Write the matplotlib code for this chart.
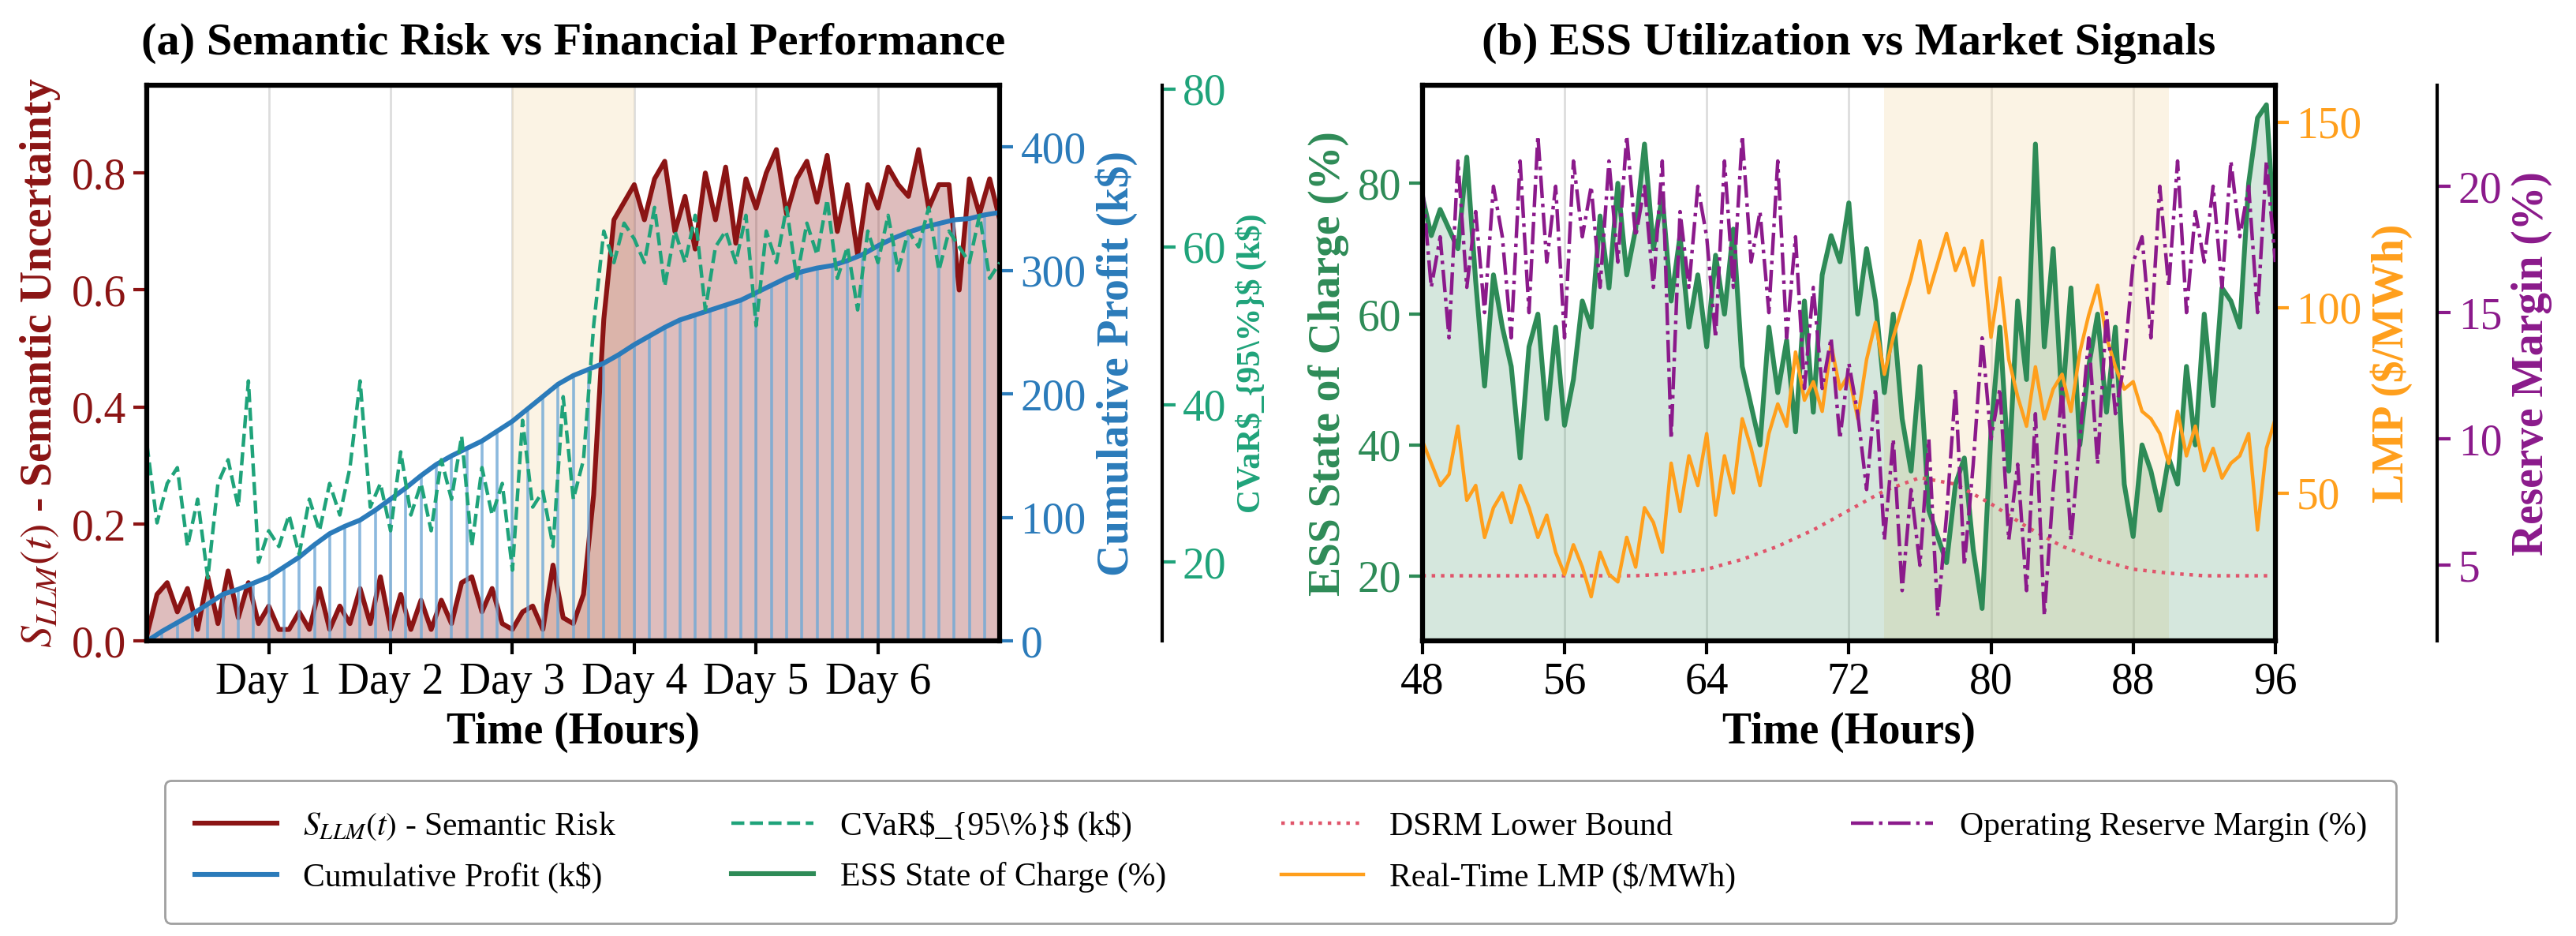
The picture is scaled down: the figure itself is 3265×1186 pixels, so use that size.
import numpy as np
import matplotlib.pyplot as plt
from matplotlib.lines import Line2D

plt.rcParams['font.family'] = ['Liberation Serif', 'DejaVu Serif']
plt.rcParams['mathtext.fontset'] = 'stix'

# ---- panel (a) data ----
hours_a = np.arange(0, 169, 2)
s_llm = [0.01, 0.08, 0.10, 0.05, 0.09, 0.02, 0.11, 0.03, 0.12, 0.04, 0.10, 0.03, 0.06,
         0.02, 0.02, 0.05, 0.02, 0.09, 0.02, 0.06, 0.03, 0.09, 0.03, 0.11, 0.02, 0.08,
         0.02, 0.07, 0.02, 0.07, 0.03, 0.10, 0.11, 0.05, 0.09, 0.03, 0.02, 0.05, 0.06,
         0.02, 0.13, 0.04, 0.03, 0.08, 0.25, 0.55, 0.72, 0.75, 0.78, 0.72, 0.79, 0.82,
         0.70, 0.76, 0.67, 0.80, 0.72, 0.81, 0.68, 0.79, 0.74, 0.80, 0.84, 0.73, 0.79,
         0.82, 0.75, 0.83, 0.70, 0.78, 0.66, 0.78, 0.74, 0.81, 0.78, 0.76, 0.84, 0.74,
         0.78, 0.78, 0.60, 0.79, 0.73, 0.79, 0.72]
cvar = [35, 25, 30, 32, 22, 28, 18, 30, 33, 27, 43, 20, 24, 22, 26, 21, 28, 24, 30, 26,
        32, 43, 27, 30, 24, 34, 26, 30, 24, 33, 28, 36, 22, 32, 26, 30, 19, 38, 27, 29,
        22, 41, 28, 33, 50, 62, 58, 63, 61, 58, 65, 55, 62, 58, 64, 52, 60, 62, 58, 64,
        50, 62, 58, 65, 56, 63, 59, 66, 56, 60, 52, 62, 58, 64, 57, 62, 60, 65, 57, 62,
        60, 58, 64, 56, 58]
hours_p = np.arange(0, 169, 3)
profit = [0, 8, 15, 22, 30, 38, 42, 47, 52, 60, 68, 78, 87, 93, 98, 106, 115, 124, 134,
          143, 150, 156, 162, 170, 178, 188, 198, 208, 215, 220, 225, 232, 240, 247, 254,
          260, 264, 268, 272, 276, 282, 288, 294, 299, 302, 304, 308, 313, 320, 326, 331,
          335, 338, 341, 342, 345, 347]
day_ticks = [24, 48, 72, 96, 120, 144]
day_labels = ['Day 1', 'Day 2', 'Day 3', 'Day 4', 'Day 5', 'Day 6']

# ---- panel (b) data ----
hours_b = np.arange(48, 96.01, 0.5)
soc = [78, 72, 76, 73, 70, 84, 65, 49, 66,
       58, 52, 38, 55, 60, 44, 58, 43, 50,
       62, 58, 75, 64, 80, 66, 73, 86, 70,
       78, 62, 72, 58, 66, 55, 69, 60, 73,
       52, 46, 40, 58, 48, 56, 42, 62, 45,
       66, 72, 68, 77, 60, 70, 62, 48, 60,
       44, 36, 52, 30, 26, 22, 34, 38, 24,
       15, 42, 58, 36, 62, 50, 86, 55, 70,
       46, 64, 40, 52, 60, 45, 58, 34, 26,
       40, 36, 30, 38, 34, 52, 40, 60, 46,
       64, 62, 58, 80, 90, 92, 70]
lmp = [64, 58, 52, 55, 68, 48, 52, 38, 46,
       50, 42, 52, 46, 38, 44, 34, 28, 36,
       30, 22, 34, 28, 26, 38, 30, 46, 42,
       34, 58, 45, 60, 52, 66, 44, 60, 50,
       70, 62, 52, 66, 74, 68, 88, 75, 80,
       72, 90, 78, 82, 70, 86, 96, 82, 92,
       100, 108, 118, 104, 112, 120, 110, 116, 106,
       118, 92, 108, 86, 76, 68, 84, 70, 78,
       82, 72, 88, 98, 106, 92, 84, 78, 80,
       72, 70, 66, 58, 72, 60, 68, 56, 62,
       54, 58, 60, 66, 40, 62, 70]
reserve = [20, 16, 18, 14, 21, 16, 19, 15, 20,
           18, 14, 21, 15, 22, 17, 20, 14, 21,
           18, 20, 16, 21, 17, 22, 18, 20, 16,
           21, 10, 19, 16, 20, 18, 14, 21, 16,
           22, 17, 19, 15, 21, 14, 18, 12, 16,
           12, 14, 10, 13, 11, 8, 12, 6, 10,
           4, 8, 5, 10, 3, 7, 12, 5, 9,
           14, 10, 12, 6, 9, 4, 11, 3, 8,
           12, 6, 10, 14, 9, 15, 11, 13, 17,
           18, 14, 20, 16, 21, 15, 19, 17, 20,
           16, 21, 18, 20, 15, 21, 17]
hours_d = np.arange(48, 97, 2)
dsrm = [20, 20, 20, 20, 20, 20, 20, 20.3, 21, 22.5, 24.5, 27, 30, 33, 35, 34, 31,
        27.5, 24.5, 22.5, 21, 20.4, 20, 20, 20]

c_red = '#8b1414'
c_blue = '#2b7bba'
c_cvar = '#1fa37a'
c_soc = '#2e8b57'
c_lmp = '#ff9f1c'
c_res = '#8b1a8b'
c_dsrm = '#e0556b'

fig = plt.figure(figsize=(16.33, 5.93), dpi=200)
ax1 = fig.add_axes([0.057, 0.315, 0.331, 0.594])
ax2 = fig.add_axes([0.552, 0.315, 0.331, 0.594])

def style_spines(ax):
    for s in ax.spines.values():
        s.set_linewidth(2.2)

# ---------- (a) ----------
ax1.axvspan(72, 96, color='#f5deb3', alpha=0.35, lw=0)
for d in day_ticks:
    ax1.axvline(d, color='#dddddd', lw=1, zorder=0)
ax1.plot(hours_a, s_llm, color=c_red, lw=2.2, zorder=3)
ax1.fill_between(hours_a, 0, s_llm, color=c_red, alpha=0.28, lw=0)
ax1.set_xlim(0, 168)
ax1.set_ylim(0, 0.95)
ax1.set_yticks([0, 0.2, 0.4, 0.6, 0.8])
ax1.set_xticks(day_ticks)
ax1.set_xticklabels(day_labels)
ax1.tick_params(axis='y', colors=c_red, labelsize=20, width=1.5, length=6)
ax1.tick_params(axis='x', labelsize=20, width=1.5, length=6)
ax1.set_ylabel('$S_{LLM}(t)$ - Semantic Uncertainty', color=c_red, fontsize=20, fontweight='bold')
ax1.set_xlabel('Time (Hours)', fontsize=20, fontweight='bold')
ax1.set_title('(a) Semantic Risk vs Financial Performance', fontsize=21, fontweight='bold', pad=14)

ax1b = ax1.twinx()
ax1b.vlines(hours_p, 0, profit, color='#6fa8d6', lw=1.3, alpha=0.8)
ax1b.plot(hours_p, profit, color=c_blue, lw=2.2)
ax1b.set_ylim(0, 450)
ax1b.set_yticks([0, 100, 200, 300, 400])
ax1b.tick_params(axis='y', colors=c_blue, labelsize=20, width=1.5, length=6)
ax1b.set_ylabel('Cumulative Profit (k$)', color=c_blue, fontsize=20, fontweight='bold')

ax1c = ax1.twinx()
ax1c.spines['right'].set_position(('axes', 1.19))
ax1c.plot(hours_a, cvar, color=c_cvar, lw=1.6, ls='--')
ax1c.set_ylim(10, 80.5)
ax1c.set_yticks([20, 40, 60, 80])
ax1c.tick_params(axis='y', colors=c_cvar, labelsize=20, width=1.5, length=6)
ax1c.set_ylabel(r'CVaR\$_{95\%}\$ (k\$)', color=c_cvar, fontsize=15, fontweight='bold')
for a in (ax1, ax1b, ax1c):
    style_spines(a)
ax1c.spines['right'].set_linewidth(1.5)

# ---------- (b) ----------
ax2.axvspan(74, 90, color='#f5deb3', alpha=0.35, lw=0)
for t in range(56, 96, 8):
    ax2.axvline(t, color='#dddddd', lw=1, zorder=0)
ax2.plot(hours_b, soc, color=c_soc, lw=2.2, zorder=3)
ax2.fill_between(hours_b, 0, soc, color=c_soc, alpha=0.2, lw=0)
ax2.plot(hours_d, dsrm, color=c_dsrm, lw=1.6, ls=':', zorder=3)
ax2.set_xlim(48, 96)
ax2.set_ylim(10, 95)
ax2.set_xticks(range(48, 97, 8))
ax2.set_yticks([20, 40, 60, 80])
ax2.tick_params(axis='y', colors=c_soc, labelsize=20, width=1.5, length=6)
ax2.tick_params(axis='x', labelsize=20, width=1.5, length=6)
ax2.set_ylabel('ESS State of Charge (%)', color=c_soc, fontsize=20, fontweight='bold')
ax2.set_xlabel('Time (Hours)', fontsize=20, fontweight='bold')
ax2.set_title('(b) ESS Utilization vs Market Signals', fontsize=21, fontweight='bold', pad=14)

ax2b = ax2.twinx()
ax2b.plot(hours_b, lmp, color=c_lmp, lw=1.6)
ax2b.set_ylim(10, 160)
ax2b.set_yticks([50, 100, 150])
ax2b.tick_params(axis='y', colors=c_lmp, labelsize=20, width=1.5, length=6)
ax2b.set_ylabel('LMP ($/MWh)', color=c_lmp, fontsize=20, fontweight='bold')

ax2c = ax2.twinx()
ax2c.spines['right'].set_position(('axes', 1.19))
ax2c.plot(hours_b, reserve, color=c_res, lw=1.6, ls='-.')
ax2c.set_ylim(2, 24)
ax2c.set_yticks([5, 10, 15, 20])
ax2c.tick_params(axis='y', colors=c_res, labelsize=20, width=1.5, length=6)
ax2c.set_ylabel('Reserve Margin (%)', color=c_res, fontsize=20, fontweight='bold')
for a in (ax2, ax2b, ax2c):
    style_spines(a)
ax2c.spines['right'].set_linewidth(1.5)

handles = [
    Line2D([], [], color=c_red, lw=2.2),
    Line2D([], [], color=c_blue, lw=2.2),
    Line2D([], [], color=c_cvar, lw=1.6, ls='--'),
    Line2D([], [], color=c_soc, lw=2.2),
    Line2D([], [], color=c_dsrm, lw=1.6, ls=':'),
    Line2D([], [], color=c_lmp, lw=1.6),
    Line2D([], [], color=c_res, lw=1.6, ls='-.'),
]
labels = ['$S_{LLM}(t)$ - Semantic Risk', 'Cumulative Profit (k$)',
          r'CVaR\$_{95\%}\$ (k\$)', 'ESS State of Charge (%)',
          'DSRM Lower Bound', 'Real-Time LMP ($/MWh)',
          'Operating Reserve Margin (%)']
leg = fig.legend(handles, labels, ncol=4, loc='center', bbox_to_anchor=(0.497, 0.09),
                 fontsize=15, frameon=True, edgecolor='#888888', fancybox=True,
                 handlelength=2.5, columnspacing=3.5, borderpad=0.9, labelspacing=0.6)

fig.savefig('out.png', dpi=200)
